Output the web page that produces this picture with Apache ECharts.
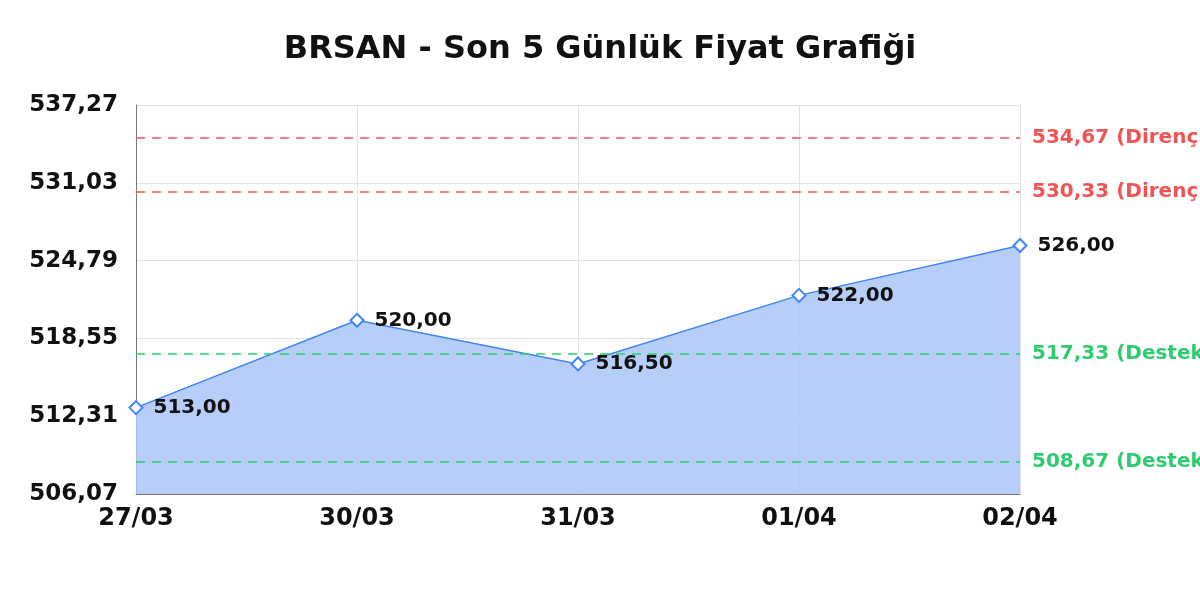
<!DOCTYPE html>
<html>
<head>
<meta charset="utf-8">
<script src="https://cdn.jsdelivr.net/npm/echarts@6/dist/echarts.min.js"></script>
<style>
  html, body { margin: 0; padding: 0; background: #fff; }
  #main { width: 1200px; height: 600px; }
</style>
</head>
<body>
<div id="main"></div>
<script>
const dates = ["27/03", "30/03", "31/03", "01/04", "02/04"];
const prices = [513.0, 520.0, 516.5, 522.0, 526.0];
const resistance = [534.67, 530.33];
const support = [517.33, 508.67];
const yMin = 506.07;
const yMax = 537.27;
const yStep = 6.24;

const FONT = "DejaVu Sans";
const fmt = (v) => v.toFixed(2).replace(".", ",");

// support / resistance levels as dashed mark lines
const levelLines = [
  ...resistance.map((v) => ({ v, name: "Direnç", color: "#f05454" })),
  ...support.map((v) => ({ v, name: "Destek", color: "#2ecc71" })),
].map((l) => ({
  yAxis: l.v,
  lineStyle: { color: l.color, type: [9, 7], width: 1.5 },
  label: {
    show: true,
    position: "end",
    color: l.color,
    fontWeight: "bold",
    fontSize: 20,
    fontFamily: FONT,
    distance: 12,
    formatter: fmt(l.v) + " (" + l.name + ")",
  },
}));

let options = {
  textStyle: { fontFamily: FONT },
  title: {
    text: "BRSAN - Son 5 Günlük Fiyat Grafiği",
    left: "center",
    top: 29,
    textStyle: { fontSize: 32, fontWeight: "bold", color: "#111", fontFamily: FONT },
  },
  grid: { left: 136, right: 180, top: 105, bottom: 106 },
  xAxis: {
    type: "category",
    data: dates,
    boundaryGap: false,
    axisLine: { lineStyle: { color: "#777" } },
    axisTick: { show: false },
    axisLabel: { color: "#111", fontWeight: "bold", fontSize: 24, fontFamily: FONT, margin: 13 },
    splitLine: { show: true, lineStyle: { color: "#e3e3e3" } },
  },
  yAxis: {
    type: "value",
    min: yMin,
    max: yMax,
    interval: yStep,
    axisLine: { show: true, lineStyle: { color: "#777" } },
    axisTick: { show: false },
    axisLabel: { color: "#111", fontWeight: "bold", fontSize: 23, fontFamily: FONT, margin: 18, formatter: fmt },
    splitLine: { lineStyle: { color: "#e3e3e3" } },
  },
  series: [
    {
      name: "BRSAN",
      type: "line",
      data: prices,
      symbol: "emptyDiamond",
      symbolSize: 13,
      lineStyle: { color: "#4285f4", width: 1.5 },
      itemStyle: { color: "#4285f4", borderWidth: 2.5 },
      areaStyle: { color: "#a9c6f7", opacity: 0.85 },
      label: {
        show: true,
        position: "right",
        distance: 10,
        color: "#111",
        fontWeight: "bold",
        fontSize: 20,
        fontFamily: FONT,
        formatter: (p) => fmt(p.value),
      },
      markLine: {
        silent: true,
        symbol: "none",
        data: levelLines,
      },
    },
  ],
};

let myChart = echarts.init(document.getElementById("main"));
myChart.setOption(options);
</script>
</body>
</html>
